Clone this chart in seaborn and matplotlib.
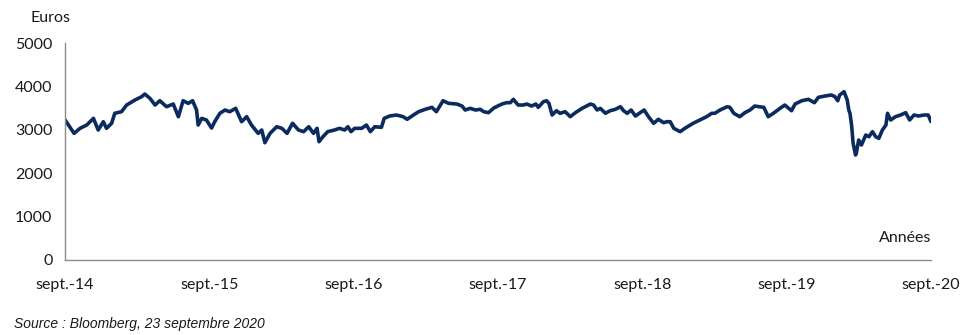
import matplotlib
matplotlib.use("Agg")
import matplotlib.pyplot as plt
import seaborn as sns
import pandas as pd

# ---- data ----
dates = [
    "2014-09-23", "2014-10-16", "2014-10-31", "2014-11-17", "2014-12-04", "2014-12-16", "2014-12-29",
    "2015-01-06", "2015-01-19", "2015-01-27", "2015-02-13", "2015-02-26", "2015-03-19", "2015-04-05",
    "2015-04-13", "2015-04-26", "2015-05-09", "2015-05-21", "2015-06-07", "2015-06-24", "2015-07-07",
    "2015-07-19", "2015-08-01", "2015-08-12", "2015-08-22", "2015-08-26", "2015-09-04", "2015-09-16",
    "2015-09-29", "2015-10-07", "2015-10-20", "2015-11-02", "2015-11-14", "2015-11-29", "2015-12-14",
    "2015-12-27", "2016-01-08", "2016-01-25", "2016-02-03", "2016-02-11", "2016-02-24", "2016-03-12",
    "2016-03-25", "2016-04-07", "2016-04-21", "2016-05-06", "2016-05-19", "2016-06-01", "2016-06-13",
    "2016-06-22", "2016-06-27", "2016-07-07", "2016-07-19", "2016-08-05", "2016-08-18", "2016-08-31",
    "2016-09-08", "2016-09-16", "2016-09-25", "2016-10-13", "2016-10-25", "2016-11-04", "2016-11-15",
    "2016-12-02", "2016-12-09", "2016-12-23", "2017-01-09", "2017-01-26", "2017-02-05", "2017-02-21",
    "2017-03-06", "2017-03-23", "2017-04-09", "2017-04-20", "2017-05-07", "2017-05-21", "2017-06-11",
    "2017-06-24", "2017-07-02", "2017-07-15", "2017-07-28", "2017-08-09", "2017-08-18", "2017-08-30",
    "2017-09-12", "2017-09-25", "2017-10-05", "2017-10-15", "2017-10-24", "2017-11-01", "2017-11-13",
    "2017-11-26", "2017-12-05", "2017-12-17", "2017-12-28", "2018-01-03", "2018-01-16", "2018-01-24",
    "2018-01-30", "2018-02-07", "2018-02-18", "2018-02-27", "2018-03-12", "2018-03-25", "2018-04-07",
    "2018-04-24", "2018-05-15", "2018-05-23", "2018-06-01", "2018-06-09", "2018-06-22", "2018-07-04",
    "2018-07-17", "2018-07-30", "2018-08-07", "2018-08-16", "2018-08-26", "2018-09-06", "2018-09-18",
    "2018-09-28", "2018-10-09", "2018-10-22", "2018-11-03", "2018-11-16", "2018-11-25", "2018-12-03",
    "2018-12-12", "2018-12-28", "2019-01-09", "2019-01-30", "2019-02-16", "2019-03-05", "2019-03-18",
    "2019-03-26", "2019-04-08", "2019-04-26", "2019-05-03", "2019-05-13", "2019-05-28", "2019-06-10",
    "2019-06-23", "2019-07-05", "2019-07-16", "2019-07-28", "2019-08-08", "2019-08-21", "2019-09-07",
    "2019-09-19", "2019-09-29", "2019-10-06", "2019-10-15", "2019-11-01", "2019-11-18", "2019-12-03",
    "2019-12-13", "2019-12-30", "2020-01-15", "2020-01-24", "2020-01-31", "2020-02-05", "2020-02-16",
    "2020-02-24", "2020-02-28", "2020-03-02", "2020-03-06", "2020-03-10", "2020-03-16", "2020-03-18",
    "2020-03-24", "2020-03-31", "2020-04-11", "2020-04-19", "2020-04-28", "2020-05-06", "2020-05-14",
    "2020-05-23", "2020-06-01", "2020-06-05", "2020-06-13", "2020-06-25", "2020-07-08", "2020-07-21",
    "2020-07-31", "2020-08-11", "2020-08-23", "2020-09-05", "2020-09-16", "2020-09-23",
]
values = [
    3230, 2918, 3034, 3110, 3264, 2995, 3187,
    3034, 3150, 3380, 3417, 3571, 3686, 3763,
    3825, 3725, 3571, 3670, 3532, 3594, 3302,
    3670, 3610, 3670, 3456, 3110, 3264, 3226,
    3040, 3187, 3380, 3456, 3417, 3495, 3187,
    3302, 3110, 2918, 2995, 2703, 2918, 3071,
    3034, 2918, 3150, 2995, 2957, 3071, 2918,
    3034, 2726, 2841, 2957, 2995, 3034, 2995,
    3071, 2957, 3034, 3034, 3110, 2957, 3071,
    3057, 3264, 3318, 3341, 3302, 3242, 3341,
    3417, 3472, 3518, 3417, 3670, 3610, 3594,
    3548, 3456, 3495, 3456, 3472, 3417, 3395,
    3500, 3560, 3600, 3625, 3625, 3702, 3571,
    3571, 3594, 3548, 3594, 3518, 3648, 3670,
    3610, 3341, 3440, 3380, 3417, 3302, 3395,
    3495, 3594, 3571, 3456, 3495, 3380, 3440,
    3472, 3532, 3440, 3380, 3456, 3318, 3395,
    3456, 3302, 3150, 3242, 3164, 3187, 3187,
    3034, 2957, 3034, 3150, 3226, 3302, 3380,
    3380, 3456, 3532, 3518, 3380, 3302, 3395,
    3456, 3548, 3532, 3518, 3302, 3380, 3495,
    3571, 3495, 3440, 3594, 3670, 3702, 3625,
    3748, 3779, 3802, 3763, 3670, 3802, 3878,
    3686, 3456, 3380, 3110, 2688, 2419, 2458,
    2765, 2650, 2880, 2841, 2957, 2841, 2803,
    2995, 3110, 3380, 3226, 3302, 3341, 3395,
    3226, 3341, 3318, 3341, 3341, 3190,
]
tick_dates = ["2014-09-23", "2015-09-23", "2016-09-23", "2017-09-23",
              "2018-09-23", "2019-09-23", "2020-09-23"]
tick_labels = ["sept.-14", "sept.-15", "sept.-16", "sept.-17",
               "sept.-18", "sept.-19", "sept.-20"]
y_ticks = [0, 1000, 2000, 3000, 4000, 5000]

df = pd.DataFrame({"date": pd.to_datetime(dates), "value": values})

sns.set_style("white")
plt.rcParams["font.family"] = ["Lato", "DejaVu Sans"]

fig = plt.figure(figsize=(9.73, 3.35), dpi=100)
ax = fig.add_axes([0.0668, 0.2239, 0.8900, 0.6477])

sns.lineplot(data=df, x="date", y="value", ax=ax, color="#0b2a5e", linewidth=2.6)
for ln in ax.get_lines():
    ln.set_solid_joinstyle("round")
    ln.set_solid_capstyle("round")

ax.set_xlim(pd.Timestamp(tick_dates[0]), pd.Timestamp(tick_dates[-1]))
ax.set_ylim(0, 5000)
ax.set_xticks(pd.to_datetime(tick_dates))
ax.set_xticklabels(tick_labels)
ax.set_yticks(y_ticks)
ax.set_yticklabels([str(v) for v in y_ticks])
ax.set_xlabel("")
ax.set_ylabel("")

for s in ["top", "right"]:
    ax.spines[s].set_visible(False)
for s in ["left", "bottom"]:
    ax.spines[s].set_color("#8c8c8c")
    ax.spines[s].set_linewidth(1.0)

ax.tick_params(axis="both", which="major", direction="out", length=5, width=1.0,
               color="#8c8c8c", labelsize=11.5, labelcolor="#1a1a1a")
ax.tick_params(axis="x", pad=8)
ax.tick_params(axis="y", pad=4)

fig.text(0.031, 0.945, "Euros", fontsize=11.5, color="#1a1a1a", va="center", ha="left")
fig.text(0.957, 0.290, "Années", fontsize=11.5, color="#1a1a1a", va="center", ha="right")
fig.text(0.014, 0.032, "Source : Bloomberg, 23 septembre 2020", fontsize=10,
         style="italic", family=["Liberation Sans", "DejaVu Sans"], color="#1a1a1a",
         va="center", ha="left")

fig.savefig("out.png", dpi=100)
